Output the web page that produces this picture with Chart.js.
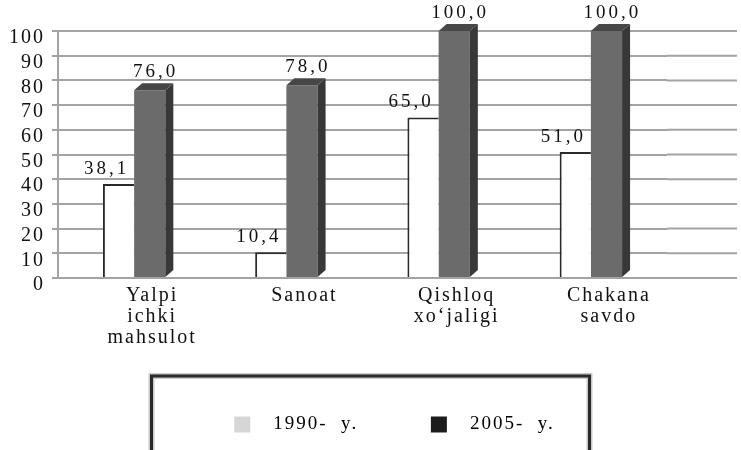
<!DOCTYPE html>
<html>
<head>
<meta charset="utf-8">
<script src="https://cdn.jsdelivr.net/npm/chart.js@4"></script>
<style>
  html, body { margin: 0; padding: 0; background: #fff; }
  #wrap { width: 741px; height: 450px; }
</style>
</head>
<body>
<div id="wrap"><canvas id="chart" width="741" height="450"></canvas></div>
<script>
const categories = [["Yalpi", "ichki", "mahsulot"], "Sanoat", ["Qishloq", "xo‘jaligi"], ["Chakana", "savdo"]];
const seriesNames = ["1990- y.", "2005- y."];
const values1990 = [38.1, 10.4, 65.0, 51.0];
const values2005 = [76.0, 78.0, 100.0, 100.0];
const yMin = 0, yMax = 100, yStep = 10;

const FONT = "'Liberation Serif', 'Times New Roman', serif";
const depth = { dx: 8, dy: -7 };

function fmt(v) {
  return v.toFixed(1).replace(".", ",");
}

// canvas letter spacing, the source text is spaced out
const spacing = {
  id: "spacing",
  beforeLayout(chart) { chart.ctx.letterSpacing = "2px"; },
  beforeDraw(chart) { chart.ctx.letterSpacing = "2px"; }
};

// legend in the source sits right of centre
const legendShift = {
  id: "legendShift",
  afterLayout(chart) {
    chart.legend.left += 24;
    chart.legend.right += 24;
  }
};

// gridlines run on past the last category
const gridTail = {
  id: "gridTail",
  beforeDatasetsDraw(chart) {
    const ctx = chart.ctx;
    const y = chart.scales.y;
    const area = chart.chartArea;
    ctx.save();
    ctx.strokeStyle = "#a3a3a3";
    ctx.lineWidth = 2;
    y.ticks.forEach(t => {
      const py = y.getPixelForValue(t.value);
      ctx.beginPath();
      ctx.moveTo(area.right, py);
      ctx.lineTo(chart.width - 4, py);
      ctx.stroke();
    });
    ctx.restore();
  }
};

// side and top faces for the dark bars, then value labels
const bars3d = {
  id: "bars3d",
  afterDatasetsDraw(chart) {
    const ctx = chart.ctx;
    ctx.save();
    chart.getDatasetMeta(1).data.forEach(bar => {
      const { x, y, base, width } = bar.getProps(["x", "y", "base", "width"], true);
      const l = x - width / 2, r = x + width / 2;
      ctx.fillStyle = "#383838";
      ctx.beginPath();
      ctx.moveTo(r, y);
      ctx.lineTo(r + depth.dx, y + depth.dy);
      ctx.lineTo(r + depth.dx, base + depth.dy);
      ctx.lineTo(r, base);
      ctx.closePath();
      ctx.fill();
      ctx.fillStyle = "#474747";
      ctx.beginPath();
      ctx.moveTo(l, y);
      ctx.lineTo(l + depth.dx, y + depth.dy);
      ctx.lineTo(r + depth.dx, y + depth.dy);
      ctx.lineTo(r, y);
      ctx.closePath();
      ctx.fill();
    });

    ctx.font = "19px " + FONT;
    ctx.letterSpacing = "3px";
    ctx.fillStyle = "#111";
    ctx.textAlign = "center";
    ctx.textBaseline = "alphabetic";
    chart.getDatasetMeta(0).data.forEach((bar, i) => {
      ctx.fillText(fmt(values1990[i]), bar.x - 12, bar.y - 10);
    });
    chart.getDatasetMeta(1).data.forEach((bar, i) => {
      ctx.fillText(fmt(values2005[i]), bar.x + 6, bar.y + depth.dy - 6);
    });
    ctx.restore();
  }
};

// framed box round the legend
const legendFrame = {
  id: "legendFrame",
  afterDraw(chart) {
    const lg = chart.legend;
    const ctx = chart.ctx;
    const cx = chart.width / 2;
    const top = lg.top - 27;
    ctx.save();
    ctx.strokeStyle = "#c8c8c8";
    ctx.lineWidth = 6;
    ctx.strokeRect(cx - 219, top, 438, chart.height - top + 20);
    ctx.strokeStyle = "#2a2a2a";
    ctx.lineWidth = 3;
    ctx.strokeRect(cx - 219, top, 438, chart.height - top + 20);
    ctx.restore();
  }
};

Chart.defaults.font.family = FONT;
Chart.defaults.font.size = 19;
Chart.defaults.color = "#111";

new Chart(document.getElementById("chart"), {
  type: "bar",
  data: {
    labels: categories,
    datasets: [
      {
        label: seriesNames[0],
        data: values1990,
        backgroundColor: "#ffffff",
        borderColor: "#2a2a2a",
        borderWidth: { left: 2, top: 2, right: 0, bottom: 0 },
        borderSkipped: false,
        categoryPercentage: 0.41,
        barPercentage: 1.0
      },
      {
        label: seriesNames[1],
        data: values2005,
        backgroundColor: "#6b6b6b",
        borderWidth: 0,
        categoryPercentage: 0.41,
        barPercentage: 1.0
      }
    ]
  },
  options: {
    responsive: false,
    animation: false,
    devicePixelRatio: 1,
    layout: { padding: { left: 0, right: 0, top: 31, bottom: 6 } },
    plugins: {
      tooltip: { enabled: false },
      legend: {
        position: "bottom",
        labels: {
          boxWidth: 16,
          boxHeight: 16,
          padding: 12,
          font: { size: 19, family: FONT },
          generateLabels(chart) {
            const fills = ["#d6d6d6", "#1c1c1c"];
            return chart.data.datasets.map((ds, i) => ({
              text: "  " + ds.label.replace(" ", "  ") + (i === 0 ? "         " : ""),
              fillStyle: fills[i],
              strokeStyle: fills[i],
              lineWidth: 0,
              datasetIndex: i
            }));
          }
        }
      }
    },
    scales: {
      x: {
        grid: { display: false, drawTicks: false },
        border: { display: false },
        ticks: { padding: 7, labelOffset: 18, maxRotation: 0, autoSkip: false, font: { size: 20, lineHeight: 1.05 } },
        afterFit(s) { s.height = 125; }
      },
      y: {
        min: yMin,
        max: yMax,
        grid: { color: "#a3a3a3", lineWidth: 2, tickLength: 6 },
        border: { display: true, color: "#a3a3a3", width: 2 },
        ticks: { stepSize: yStep, autoSkip: false, padding: 7, labelOffset: 7, font: { size: 20 } },
        afterFit(s) { s.width = 58; }
      },
      yR: {
        type: "linear",
        position: "right",
        grid: { display: false },
        border: { display: false },
        ticks: { display: false },
        afterFit(s) { s.width = 74; }
      }
    }
  },
  plugins: [spacing, legendShift, gridTail, bars3d, legendFrame]
});
</script>
</body>
</html>
